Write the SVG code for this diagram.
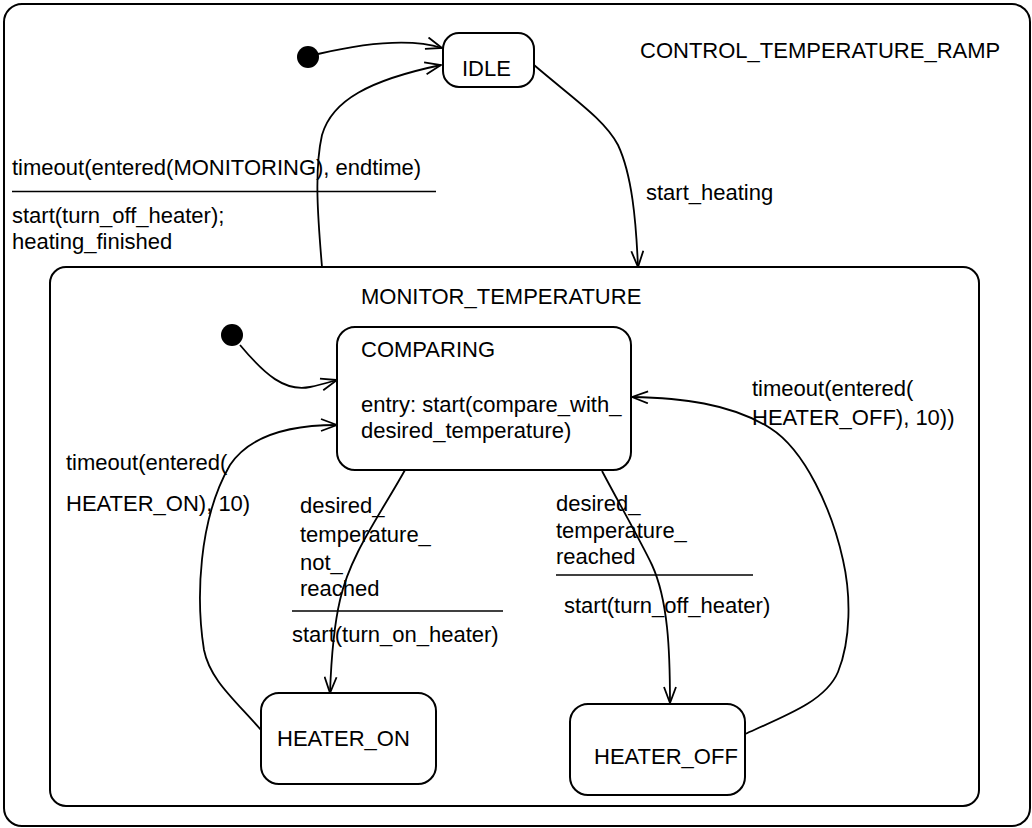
<svg xmlns="http://www.w3.org/2000/svg" width="1032" height="828" viewBox="0 0 1032 828">
<style>
.box{fill:none;stroke:#000;stroke-width:2}
.st{fill:#fff;stroke:#000;stroke-width:2}
.c{fill:none;stroke:#000;stroke-width:1.8}
.sep{stroke:#000;stroke-width:1.6}
text{font-family:"Liberation Sans",Arial,sans-serif;font-size:22px;fill:#000}
</style>
<defs>
<marker id="arr" markerUnits="userSpaceOnUse" markerWidth="18" markerHeight="14" viewBox="0 0 18 14" refX="17" refY="7" orient="auto">
<path d="M1,1 L17,7 L1,13" fill="none" stroke="#000" stroke-width="1.8"/>
</marker>
</defs>
<rect width="1032" height="828" fill="#fff"/>
<g id="CONTROL_TEMPERATURE_RAMP">
<rect class="box" x="4" y="4" width="1026" height="822" rx="18"/>
<text x="640" y="58">CONTROL_TEMPERATURE_RAMP</text>
</g>
<g id="MONITOR_TEMPERATURE">
<rect class="box" x="50" y="267" width="929" height="539" rx="16"/>
<text x="361" y="304">MONITOR_TEMPERATURE</text>
</g>
<g id="init1"><circle cx="308" cy="57" r="11" fill="#000"/></g>
<g id="init2"><circle cx="232" cy="335" r="11" fill="#000"/></g>
<g id="IDLE">
<rect class="st" x="443" y="33" width="91" height="54" rx="16"/>
<text x="462" y="76">IDLE</text>
</g>
<g id="COMPARING">
<rect class="st" x="337" y="327" width="294" height="143" rx="18"/>
<text x="361" y="357">COMPARING</text>
<text x="361" y="412">entry: start(compare_with_</text>
<text x="361" y="438">desired_temperature)</text>
</g>
<g id="HEATER_ON">
<rect class="st" x="261" y="693" width="175" height="91" rx="18"/>
<text x="277" y="746">HEATER_ON</text>
</g>
<g id="HEATER_OFF">
<rect class="st" x="570" y="704" width="175" height="91" rx="18"/>
<text x="594" y="764">HEATER_OFF</text>
</g>
<g id="connectors">
<path class="c" marker-end="url(#arr)" d="M318,54 C365,43 410,38 442,48"/>
<path class="c" marker-end="url(#arr)" d="M322,267 C318,220 314,170 322,135 C332,100 370,80 441,65"/>
<path class="c" marker-end="url(#arr)" d="M534,65 C575,100 605,120 618,145 C632,175 636,220 638,267"/>
<path class="c" marker-end="url(#arr)" d="M240,345 C265,375 285,392 310,387 C320,385 330,382 337,380"/>
<path class="c" marker-end="url(#arr)" d="M261,730 C235,700 210,680 204,650 C196,600 198,520 230,465 C250,435 290,425 337,425"/>
<path class="c" marker-end="url(#arr)" d="M405,470 C380,515 350,555 340,600 C333,630 331,665 330,693"/>
<path class="c" marker-end="url(#arr)" d="M602,471 C620,505 640,540 652,565 C668,600 670,650 670,703"/>
<path class="c" marker-end="url(#arr)" d="M745,734 C790,714 826,700 838,672 C851,640 851,595 843,560 C832,510 805,450 770,428 C730,403 680,398 632,397"/>
</g>
<g id="labels">
<text x="12" y="175">timeout(entered(MONITORING), endtime)</text>
<line class="sep" x1="12" y1="191.5" x2="436" y2="191.5"/>
<text x="12" y="223">start(turn_off_heater);</text>
<text x="12" y="249">heating_finished</text>
<text x="646" y="200">start_heating</text>
<text x="66" y="470">timeout(entered(</text>
<text x="66" y="511">HEATER_ON), 10)</text>
<text x="300" y="513">desired_</text>
<text x="300" y="542">temperature_</text>
<text x="300" y="570">not_</text>
<text x="300" y="596">reached</text>
<line class="sep" x1="292" y1="611" x2="503" y2="611"/>
<text x="292" y="642">start(turn_on_heater)</text>
<text x="556" y="511">desired_</text>
<text x="556" y="538">temperature_</text>
<text x="556" y="564">reached</text>
<line class="sep" x1="556" y1="575" x2="753" y2="575"/>
<text x="564" y="613">start(turn_off_heater)</text>
<text x="752" y="396">timeout(entered(</text>
<text x="752" y="425">HEATER_OFF), 10))</text>
</g>
</svg>
